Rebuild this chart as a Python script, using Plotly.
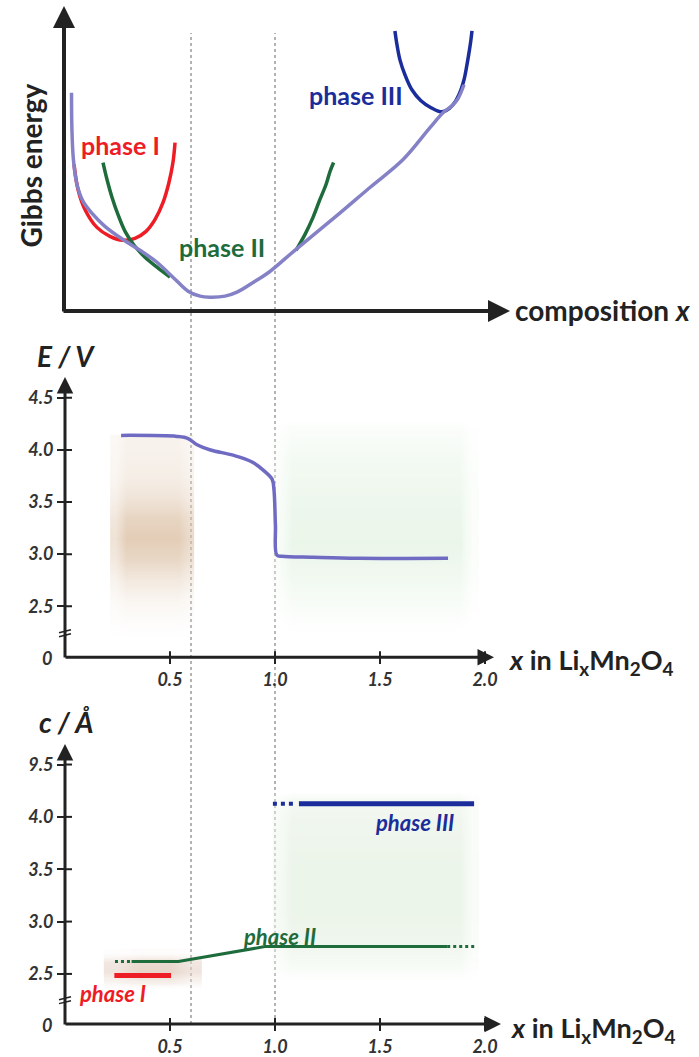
import plotly.graph_objects as go

# ---------------- data ----------------
# top panel: schematic Gibbs energy curves (composition x, arbitrary energy)
g_hull_x = [0.031, 0.033, 0.040, 0.057, 0.086, 0.129, 0.190, 0.267, 0.357, 0.438, 0.524, 0.586, 0.643,
            0.690, 0.762, 0.819, 0.905, 0.971, 1.100, 1.290, 1.452, 1.610, 1.738, 1.800, 1.843, 1.871, 1.900]
g_hull_y = [2.19, 1.82, 1.52, 1.27, 1.10, 0.98, 0.85, 0.73, 0.61, 0.49, 0.32, 0.20, 0.15,
            0.14, 0.15, 0.19, 0.30, 0.39, 0.62, 0.95, 1.24, 1.52, 1.84, 1.99, 2.06, 2.13, 2.27]
g_phase1_x = [0.043, 0.062, 0.095, 0.152, 0.214, 0.276, 0.333, 0.386, 0.429, 0.467, 0.495, 0.514, 0.524]
g_phase1_y = [1.47, 1.22, 1.02, 0.84, 0.75, 0.71, 0.73, 0.80, 0.92, 1.09, 1.29, 1.49, 1.69]
g_phase2a_x = [0.181, 0.200, 0.224, 0.252, 0.286, 0.329, 0.381, 0.438, 0.500]
g_phase2a_y = [1.49, 1.32, 1.14, 0.97, 0.80, 0.66, 0.54, 0.44, 0.34]
g_phase2b_x = [1.100, 1.143, 1.181, 1.214, 1.243, 1.262, 1.279]
g_phase2b_y = [0.61, 0.77, 0.94, 1.12, 1.27, 1.40, 1.49]
g_phase3_x = [1.571, 1.581, 1.595, 1.619, 1.652, 1.695, 1.743, 1.786, 1.814, 1.848, 1.876, 1.900,
              1.914, 1.926, 1.933, 1.938]
g_phase3_y = [2.81, 2.67, 2.52, 2.37, 2.22, 2.11, 2.04, 2.00, 2.01, 2.07, 2.17, 2.32,
              2.47, 2.62, 2.72, 2.81]

# middle panel: voltage curve E / V vs x in LixMn2O4
v_x = [0.267, 0.533, 0.586, 0.629, 0.693, 0.800, 0.886, 0.948, 0.986, 0.995, 1.002, 1.009,
       1.033, 1.183, 1.395, 1.824]
v_E = [4.14, 4.13, 4.11, 4.05, 4.00, 3.95, 3.89, 3.80, 3.72, 3.62, 3.28, 2.99,
       2.98, 2.97, 2.96, 2.96]

# bottom panel: lattice parameter c / Å
c1_x = [0.235, 0.505]
c1_c = [2.485, 2.485]
c2_dot_a_x = [0.238, 0.317]
c2_dot_a_c = [2.618, 2.618]
c2_x = [0.317, 0.540, 0.952, 1.820]
c2_c = [2.618, 2.618, 2.761, 2.761]
c2_dot_b_x = [1.820, 1.950]
c2_dot_b_c = [2.761, 2.761]
c3_dot_x = [0.990, 1.100]
c3_dot_c = [4.126, 4.126]
c3_x = [1.114, 1.948]
c3_c = [4.126, 4.126]

# phase boundaries (dotted verticals)
boundaries = [0.6, 1.0]

# axis ticks
x_ticks = [0.5, 1.0, 1.5, 2.0]
x_ticktext = ["0.5", "1.0", "1.5", "2.0"]
E_ticks = [2.5, 3.0, 3.5, 4.0, 4.5]
E_ticktext = ["2.5", "3.0", "3.5", "4.0", "4.5"]
c_ticks = [2.5, 3.0, 3.5, 4.0, 4.5]
c_ticktext = ["2.5", "3.0", "3.5", "4.0", "9.5"]

# shaded phase regions (gradients)
brown_mid_x = [0.240, 0.29, 0.42, 0.54, 0.590]
brown_mid_hfac = [0.75, 1.0, 1.0, 1.0, 0.85]
brown_mid_E = [4.08, 3.95, 3.75, 3.55, 3.35, 3.15, 2.95, 2.75, 2.55, 2.35, 2.2, 2.07]
brown_mid_lvl = [0.36, 0.38, 0.42, 0.52, 0.66, 0.72, 0.64, 0.48, 0.32, 0.18, 0.07, 0.0]

green_mid_x = [1.02, 1.08, 1.5, 1.88, 1.94]
green_mid_hfac = [0.6, 1.0, 1.0, 1.0, 0.5]
green_mid_E = [4.35, 4.2, 3.9, 3.5, 3.1, 2.8, 2.5, 2.3, 2.12]
green_mid_lvl = [0.0, 0.35, 0.55, 0.65, 0.7, 0.6, 0.4, 0.2, 0.0]

green_bot_x = [1.02, 1.08, 1.5, 1.88, 1.94]
green_bot_hfac = [0.7, 1.0, 1.0, 1.0, 0.6]
green_bot_c = [4.28, 4.15, 3.9, 3.5, 3.1, 2.8, 2.55, 2.37]
green_bot_lvl = [0.0, 0.6, 0.7, 0.75, 0.75, 0.7, 0.45, 0.0]

brown_bot_x = [0.24, 0.35, 0.5, 0.6]
brown_bot_hfac = [0.8, 1.0, 1.0, 0.8]
brown_bot_c = [2.70, 2.62, 2.52, 2.42, 2.35]
brown_bot_lvl = [0.2, 0.7, 0.75, 0.45, 0.0]

# ---------------- helpers ----------------
W, H = 699, 1057
FONT = "Lato"
PURPLE_TOP = "#8581c6"
PURPLE = "#6f6ac2"
RED = "#ee1c25"
GREEN = "#1e6b3c"
BLUE = "#1b2d9a"
AX = "#222222"


def px(x):
    return x / W


def py(y):
    return 1 - y / H


x0 = 65  # pixel of x = 0
x_per_unit = 210
x_range = [0, (W - x0) / x_per_unit]
x_dom = [px(x0), 1.0]

fig = go.Figure()


def grad_trace(xs, hfac, ys, lvl, xa, ya, color):
    z = [[l * h for h in hfac] for l in lvl]
    return go.Heatmap(x=xs, y=ys, z=z, xaxis=xa, yaxis=ya, zmin=0, zmax=1,
                      colorscale=[[0, "rgba(255,255,255,0)"], [1, color]],
                      showscale=False, zsmooth="best", hoverinfo="skip")


# gradients
fig.add_trace(grad_trace(brown_mid_x, brown_mid_hfac, brown_mid_E, brown_mid_lvl, "x2", "y2", "rgb(200,158,115)"))
fig.add_trace(grad_trace(green_mid_x, green_mid_hfac, green_mid_E, green_mid_lvl, "x2", "y2", "rgb(214,236,212)"))
fig.add_trace(grad_trace(green_bot_x, green_bot_hfac, green_bot_c, green_bot_lvl, "x3", "y3", "rgb(222,236,218)"))
fig.add_trace(grad_trace(brown_bot_x, brown_bot_hfac, brown_bot_c, brown_bot_lvl, "x3", "y3", "rgb(212,180,160)"))


def line(xs, ys, color, width, xa, ya, dash="solid", shape="spline"):
    fig.add_trace(go.Scatter(x=xs, y=ys, mode="lines", xaxis=xa, yaxis=ya, hoverinfo="skip",
                             line=dict(color=color, width=width, dash=dash, shape=shape)))


# top panel curves
line(g_phase1_x, g_phase1_y, RED, 3.5, "x", "y")
line(g_phase2a_x, g_phase2a_y, GREEN, 3.5, "x", "y")
line(g_phase2b_x, g_phase2b_y, GREEN, 3.5, "x", "y")
line(g_phase3_x, g_phase3_y, BLUE, 3.5, "x", "y")
line(g_hull_x, g_hull_y, PURPLE_TOP, 3.5, "x", "y")

# middle panel
line(v_x, v_E, PURPLE, 3.5, "x2", "y2")

# bottom panel
line(c1_x, c1_c, RED, 5, "x3", "y3", shape="linear")
line(c2_dot_a_x, c2_dot_a_c, GREEN, 3, "x3", "y3", dash="dot", shape="linear")
line(c2_x, c2_c, GREEN, 3, "x3", "y3", shape="linear")
line(c2_dot_b_x, c2_dot_b_c, GREEN, 3, "x3", "y3", dash="dot", shape="linear")
line(c3_dot_x, c3_dot_c, BLUE, 4, "x3", "y3", dash="dot", shape="linear")
line(c3_x, c3_c, BLUE, 5, "x3", "y3", shape="linear")

# ---------------- axes ----------------
tickfont = dict(family=FONT, size=18, color="#333333", style="italic", weight="bold")

top_y = (8, 312)
mid_y = (380, 659)
bot_y = (748, 1027)
mid_range = [2.5 - (659 - 608) / 104.5, 4.5 + (399 - 380) / 104.5]
bot_range = [2.5 - (1027 - 976.7) / 105.0, 2.5 + (976.7 - 748) / 105.0]

base_x = dict(domain=x_dom, range=x_range, showgrid=False, zeroline=False, showline=False, fixedrange=True)
base_y = dict(showgrid=False, zeroline=False, showline=False, fixedrange=True)

layout_axes = dict(
    xaxis=dict(base_x, anchor="y", showticklabels=False, ticks=""),
    yaxis=dict(base_y, domain=[py(top_y[1]), py(top_y[0])], range=[0, (312 - 8) / 100], anchor="x",
               showticklabels=False, ticks=""),
    xaxis2=dict(base_x, anchor="y2", tickvals=x_ticks, ticktext=x_ticktext, ticks="outside",
                ticklen=6, tickwidth=2, tickcolor=AX, tickfont=tickfont),
    yaxis2=dict(base_y, domain=[py(mid_y[1]), py(mid_y[0])], range=mid_range, anchor="x2",
                tickvals=E_ticks, ticktext=E_ticktext, ticks="outside", ticklen=7, tickwidth=2,
                tickcolor=AX, tickfont=tickfont),
    xaxis3=dict(base_x, anchor="y3", tickvals=x_ticks, ticktext=x_ticktext, ticks="outside",
                ticklen=6, tickwidth=2, tickcolor=AX, tickfont=tickfont),
    yaxis3=dict(base_y, domain=[py(bot_y[1]), py(bot_y[0])], range=bot_range, anchor="x3",
                tickvals=c_ticks, ticktext=c_ticktext, ticks="outside", ticklen=7, tickwidth=2,
                tickcolor=AX, tickfont=tickfont),
)

annotations = []


def arrow(hx, hy, tx, ty, width=3):
    annotations.append(dict(x=px(hx), y=py(hy), xref="paper", yref="paper", text="",
                            showarrow=True, ax=tx - hx, ay=ty - hy, axref="pixel", ayref="pixel",
                            arrowhead=2, arrowsize=1.1, arrowwidth=width, arrowcolor=AX, standoff=0))


def label(text, x, y, size, color, italic=False, bold=True, xanchor="center", angle=0):
    annotations.append(dict(x=px(x), y=py(y), xref="paper", yref="paper", text=text, showarrow=False,
                            xanchor=xanchor, yanchor="middle", textangle=angle,
                            font=dict(family=FONT, size=size, color=color,
                                      style="italic" if italic else "normal",
                                      weight="bold" if bold else "normal")))


# axis lines with arrowheads
arrow(64, 6, 64, 313, 4)
arrow(510, 312, 62, 312, 4)
arrow(65, 378, 65, 660, 3)
arrow(494, 659, 64, 659, 3)
arrow(65, 746, 65, 1028, 3)
arrow(501, 1027, 64, 1027, 3)

# axis titles
label("Gibbs energy", 31, 166, 28, AX, angle=-90)
label("composition <i>x</i>", 513, 311, 28, AX, xanchor="left")
label("<i>E</i> / <i>V</i>", 66, 357, 28, AX, italic=True)
label("<i>c</i> / <i>Å</i>", 66, 724, 28, AX, italic=True)
label("<i>x</i> in Li<sub>x</sub>Mn<sub>2</sub>O<sub>4</sub>", 506, 663, 27, AX, xanchor="left")
label("<i>x</i> in Li<sub>x</sub>Mn<sub>2</sub>O<sub>4</sub>", 508, 1032, 27, AX, xanchor="left")
label("0", 47, 660, 18, "#333333", italic=True)
label("0", 47, 1028, 18, "#333333", italic=True)

# phase labels
label("phase I", 120, 145, 25, RED)
label("phase II", 222, 248, 25, GREEN)
label("phase III", 356, 95, 25, BLUE)
label("phase I", 112, 996, 22, RED, italic=True)
label("phase II", 279, 939, 22, GREEN, italic=True)
label("phase III", 414, 825, 22, BLUE, italic=True)

shapes = []
# dotted phase boundaries through all panels
for b in boundaries:
    shapes.append(dict(type="line", xref="x2", yref="paper", x0=b, x1=b, y0=py(1027), y1=py(33),
                       line=dict(color="#9a9a9a", width=1.5, dash="dot"), layer="below"))
# inner halves of tick marks so ticks cross the axis lines
for ya, yt in (("y2", E_ticks), ("y3", c_ticks)):
    for v in yt:
        shapes.append(dict(type="line", xref="paper", yref=ya, x0=px(65), x1=px(72), y0=v, y1=v,
                           line=dict(color=AX, width=2)))
for xa, axis_px in (("x2", 659), ("x3", 1027)):
    for v in x_ticks:
        shapes.append(dict(type="line", xref=xa, yref="paper", x0=v, x1=v, y0=py(axis_px), y1=py(axis_px - 6),
                           line=dict(color=AX, width=2)))
# axis break marks
for yb in (635, 1003):
    for d in (-2, 2):
        shapes.append(dict(type="line", xref="paper", yref="paper", x0=px(59), x1=px(71),
                           y0=py(yb + d + 1.5), y1=py(yb + d - 1.5), line=dict(color=AX, width=1.5)))

fig.update_layout(
    width=W, height=H, margin=dict(l=0, r=0, t=0, b=0),
    paper_bgcolor="white", plot_bgcolor="rgba(0,0,0,0)",
    showlegend=False, annotations=annotations, shapes=shapes,
    **layout_axes,
)

fig.write_html("out.html", config={"displayModeBar": False},
               post_script="document.body.style.margin='0px';document.body.style.overflow='hidden';")
